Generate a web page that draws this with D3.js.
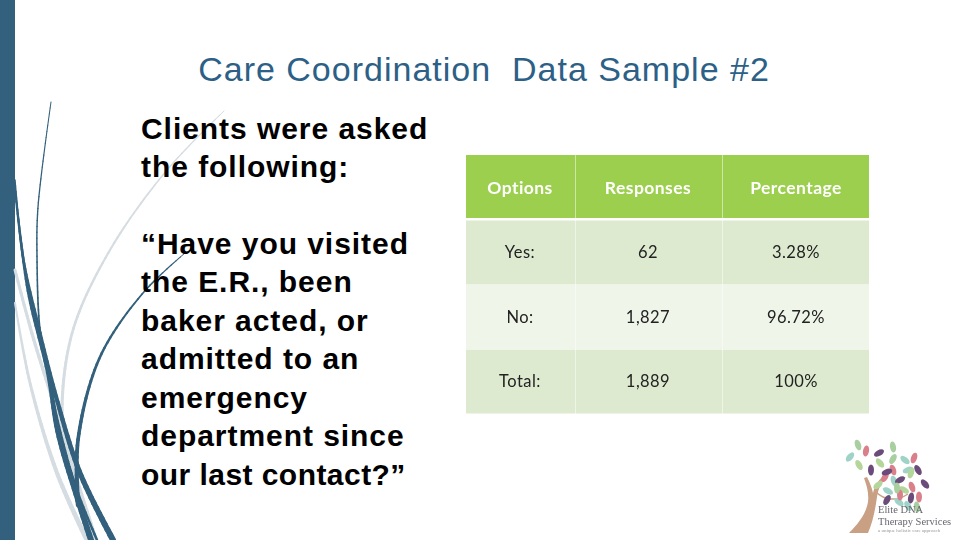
<!DOCTYPE html>
<html>
<head>
<meta charset="utf-8">
<script src="https://cdnjs.cloudflare.com/ajax/libs/d3/7.8.5/d3.min.js"></script>
<style>
  html, body { margin: 0; padding: 0; background: #fff; }
  svg { display: block; }
</style>
</head>
<body>
<svg width="960" height="540"></svg>
<script>
const titleText = 'Care Coordination\u00a0\u00a0Data Sample #2'
const bodyLines = ['Clients were asked', 'the following:', '', '\u201cHave you visited', 'the E.R., been',
  'baker acted, or', 'admitted to an', 'emergency', 'department since', 'our last contact?\u201d']

const headers = ['Options', 'Responses', 'Percentage']
const options = ['Yes:', 'No:', 'Total:']
const responses = ['62', '1,827', '1,889']
const percentages = ['3.28%', '96.72%', '100%']

const dark = '#33607c'
const light = '#d5dde2'

// decorative swooshes on the left: [colour, start width, end width, points]
const swooshes = [
  [light, 1, 3.5, [[224,111],[167,170],[110,250],[73,330],[62,407],[67,457]]],
  [light, 3, 4, [[15,270],[33,337],[60,423],[80,490],[96,540]]],
  [light, 2, 5, [[15,303],[30,383],[57,473],[87,540]]],
  [dark, 1, 2.5, [[51,102],[38,207],[37,257],[40,330],[48,373],[60,430],[77,490],[97,540]]],
  [dark, 1.5, 6, [[15,180],[23,257],[40,333],[57,400],[80,473],[113,540]]],
  [dark, 2, 6, [[15,190],[28,290],[48,373],[58,433],[77,497],[91,540]]],
  [dark, 1, 4.5, [[185,253],[143,293],[100,357],[78,440],[78,505]]]
]

// logo leaves: [x, y, rotation, colour]
const leaves = [
  [858,445,-20,'#a9cfa0'],[850,457,40,'#9fd3c7'],[866,451,10,'#d9808a'],[859,465,-30,'#b5d69a'],
  [871,470,0,'#6b4c7a'],[879,453,60,'#6b4c7a'],[893,447,-10,'#a9cfa0'],[880,463,-40,'#b5d69a'],
  [893,459,30,'#a9cfa0'],[885,477,30,'#d9808a'],[878,485,50,'#b5d69a'],[893,470,-20,'#d9808a'],
  [905,460,-50,'#9fd3c7'],[894,481,-20,'#9fd3c7'],[908,470,70,'#9fd3c7'],[900,480,60,'#6b4c7a'],
  [888,491,-60,'#9fd3c7'],[887,472,70,'#6b4c7a'],[887,500,30,'#6b4c7a'],[918,470,-30,'#6b4c7a'],
  [912,487,-20,'#d9808a'],[911,473,20,'#b5d69a'],[925,484,-40,'#6b4c7a'],[911,498,10,'#6b4c7a'],
  [919,497,0,'#d9808a'],[899,502,-50,'#9fd3c7'],[908,506,-30,'#9fd3c7'],[917,507,-10,'#a9cfa0'],
  [904,490,-60,'#b5d69a'],[900,495,0,'#d9808a'],[914,458,20,'#d9808a'],[897,488,0,'#a9cfa0']
]
const logoLines = ['Elite DNA', 'Therapy Services', 'a unique holistic care approach']

const svg = d3.select('svg')

svg.append('rect').attr('width', 15).attr('height', 540).attr('fill', dark)

// draw each swoosh as short segments so it can taper
const lineGen = d3.line().curve(d3.curveCatmullRom)
const swooshG = svg.append('g')
swooshes.forEach(([colour, w0, w1, pts]) => {
  const tmp = swooshG.append('path').attr('d', lineGen(pts)).attr('fill', 'none')
  const len = tmp.node().getTotalLength()
  const n = Math.ceil(len / 6)
  const widthAt = d3.scaleLinear().domain([0, n]).range([w0, w1])
  d3.range(n).forEach(i => {
    const a = tmp.node().getPointAtLength(len * i / n)
    const b = tmp.node().getPointAtLength(len * (i + 1) / n)
    swooshG.append('line').attr('x1', a.x).attr('y1', a.y).attr('x2', b.x).attr('y2', b.y)
      .attr('stroke', colour).attr('stroke-width', widthAt(i)).attr('stroke-linecap', 'round')
  })
  tmp.remove()
})

svg.append('text').attr('x', 484).attr('y', 81).attr('text-anchor', 'middle')
  .attr('font-family', 'Liberation Sans').attr('font-size', 34).attr('letter-spacing', 1)
  .attr('fill', '#2c6086').text(titleText)

const bodyY = d3.scaleLinear().domain([0, bodyLines.length - 1]).range([138.5, 484.5])
svg.append('g').selectAll('text').data(bodyLines).join('text')
  .attr('x', 141).attr('y', (_, i) => bodyY(i))
  .attr('font-family', 'Liberation Sans').attr('font-weight', 'bold').attr('font-size', 30)
  .attr('letter-spacing', (_, i) => i === bodyLines.length - 1 ? 0.45 : 0.95)
  .attr('fill', '#000').text(d => d)

// table
const blur = svg.append('defs').append('filter').attr('id', 'soft')
blur.append('feGaussianBlur').attr('stdDeviation', 0.45)

const colEdges = [466, 575, 722, 869]
const rowEdges = [155, 220, 284.5, 349, 413.5]
const rows = [headers].concat(options.map((o, i) => [o, responses[i], percentages[i]]))
const rowFill = ['#9ccf4e', '#deead0', '#eff5e9', '#deead0']
const colCentre = [520, 648, 796]

const table = svg.append('g').attr('filter', 'url(#soft)')
const rowG = table.selectAll('g').data(rows).join('g')
rowG.each(function (row, r) {
  const g = d3.select(this)
  g.selectAll('rect').data(row).join('rect')
    .attr('x', (_, c) => colEdges[c] + (c ? 0.5 : 0))
    .attr('y', rowEdges[r] + (r ? 0.5 : 0))
    .attr('width', (_, c) => colEdges[c + 1] - colEdges[c] - (c ? 0.5 : 0))
    .attr('height', rowEdges[r + 1] - rowEdges[r] - (r ? 0.5 : 0) - (r === 0 ? 2 : 0))
    .attr('fill', rowFill[r])
  g.selectAll('text').data(row).join('text')
    .attr('x', (_, c) => colCentre[c])
    .attr('y', rowEdges[r] + (r === 0 ? 39 : 38))
    .attr('text-anchor', 'middle')
    .attr('font-family', 'Lato').attr('font-size', r === 0 ? 17.5 : 16.5)
    .attr('letter-spacing', 0.45)
    .attr('font-weight', r === 0 ? 'bold' : 'normal')
    .attr('fill', r === 0 ? '#fff' : '#222').text(d => d)
})

// logo
const logo = svg.append('g').attr('filter', 'url(#soft)')
logo.append('path')
  .attr('d', 'M849,533 C858,524 866,514 868,502 C869,494 867,486 864,478 L867,477 C870,483 872,488 873,493 C875,484 880,478 888,472 L889,474 C883,480 878,488 877,497 C875,512 872,524 868,533 Z')
  .attr('fill', '#c9a083')
logo.append('path')
  .attr('d', 'M876,492 C884,500 896,502 908,494')
  .attr('fill', 'none').attr('stroke', '#c9a083').attr('stroke-width', 1.5)
logo.selectAll('ellipse').data(leaves).join('ellipse')
  .attr('transform', d => `translate(${d[0]},${d[1]}) rotate(${d[2]})`)
  .attr('rx', 3).attr('ry', 5.5).attr('fill', d => d[3])
logo.selectAll('text').data(logoLines).join('text')
  .attr('x', 878).attr('y', (_, i) => [513, 525, 532][i])
  .attr('font-family', 'Liberation Serif').attr('font-size', (_, i) => i < 2 ? 10.5 : 5)
  .attr('fill', (_, i) => i < 2 ? '#66666f' : '#999').text(d => d)
</script>
</body>
</html>
